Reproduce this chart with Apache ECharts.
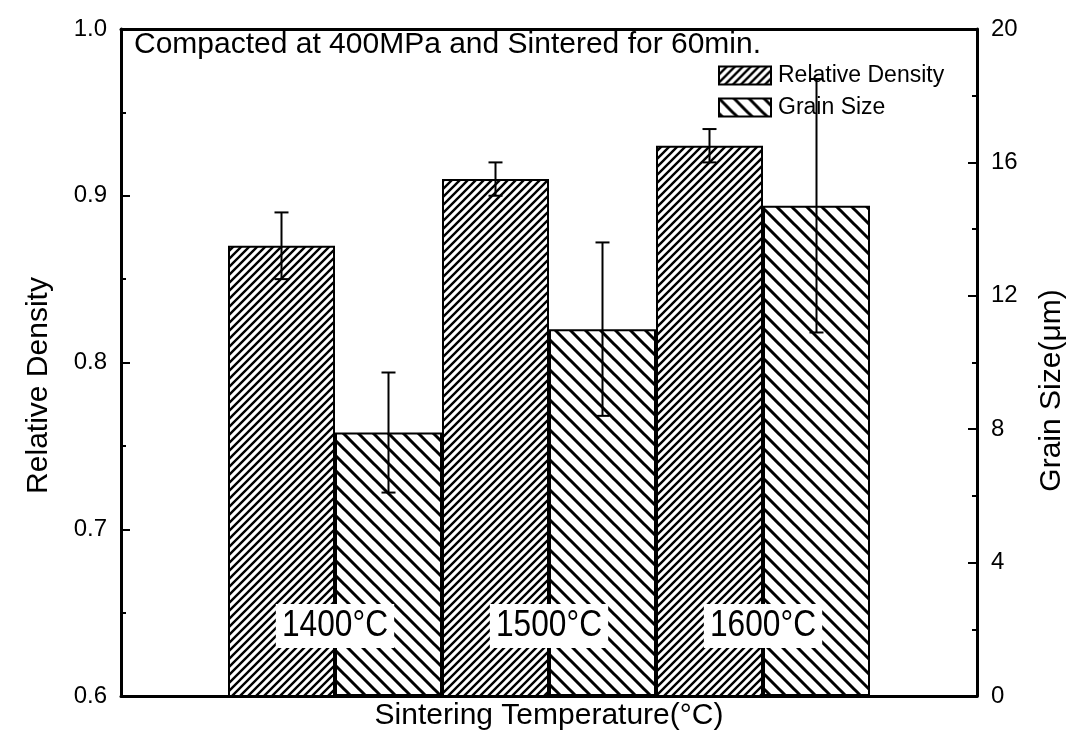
<!DOCTYPE html>
<html>
<head>
<meta charset="utf-8">
<script src="https://cdn.jsdelivr.net/npm/echarts@6/dist/echarts.min.js"></script>
<style>
html, body { margin: 0; padding: 0; background: #fff; }
</style>
</head>
<body>
<div id="main" style="width: 1089px;height:738px;"></div>

<script type="text/javascript">
// data
var categories = ['', '1400°C', '1500°C', '1600°C', ''];
var relDensity = ['-', 0.87, 0.91, 0.93, '-'];
var relDensityErr = [0, 0.02, 0.01, 0.01, 0];
var grainSize = ['-', 7.9, 11.0, 14.7, '-'];
var grainSizeErr = [0, 1.8, 2.6, 3.8, 0];

var FONT = '"Liberation Sans", Arial, sans-serif';
var LABEL_Y = 0.642; // where the temperature boxes sit (left axis units)

// hatch fill: dir 1 = "/" , dir -1 = "\"
function hatch(s, dir, lw) {
	var c = document.createElement('canvas');
	c.width = s; c.height = s;
	var ctx = c.getContext('2d');
	ctx.fillStyle = '#fff';
	ctx.fillRect(0, 0, s, s);
	ctx.strokeStyle = '#000';
	ctx.lineWidth = lw;
	ctx.beginPath();
	if (dir > 0) {
		ctx.moveTo(-s, s); ctx.lineTo(s, -s);
		ctx.moveTo(0, s * 2); ctx.lineTo(s * 2, 0);
		ctx.moveTo(0, s); ctx.lineTo(s, 0);
	} else {
		ctx.moveTo(0, 0); ctx.lineTo(s, s);
		ctx.moveTo(-s, 0); ctx.lineTo(s, s * 2);
		ctx.moveTo(0, -s); ctx.lineTo(s * 2, s);
	}
	ctx.stroke();
	return c;
}

function errData(vals, errs) {
	var out = [];
	for (var i = 0; i < vals.length; i++) {
		if (vals[i] === '-') continue;
		out.push([i, vals[i] - errs[i], vals[i] + errs[i]]);
	}
	return out;
}

function errRender(side) {
	return function (params, api) {
		var bw = api.size([1, 0])[0];
		var lo = api.coord([api.value(0), api.value(1)]);
		var hi = api.coord([api.value(0), api.value(2)]);
		var x = lo[0] + side * bw / 4;
		var cap = 7;
		var st = { stroke: '#000', lineWidth: 2 };
		return {
			type: 'group',
			children: [
				{ type: 'line', shape: { x1: x, y1: lo[1], x2: x, y2: hi[1] }, style: st },
				{ type: 'line', shape: { x1: x - cap, y1: lo[1], x2: x + cap, y2: lo[1] }, style: st },
				{ type: 'line', shape: { x1: x - cap, y1: hi[1], x2: x + cap, y2: hi[1] }, style: st }
			]
		};
	};
}

var myChart = echarts.init(document.getElementById('main'));

var rdFill = { image: hatch(8, 1, 2.4), repeat: 'repeat' };
var gsFill = { image: hatch(15, -1, 3), repeat: 'repeat' };

var labelData = [];
for (var i = 0; i < categories.length; i++) {
	if (categories[i]) labelData.push([i, LABEL_Y]);
}

option = {
	animation: false,
	backgroundColor: '#fff',
	title: {
		text: 'Compacted at 400MPa and Sintered for 60min.',
		left: 134,
		top: 30,
		padding: 0,
		textStyle: { fontFamily: FONT, fontSize: 30, fontWeight: 'normal', color: '#000' }
	},
	legend: {
		data: ['Relative Density', 'Grain Size'],
		orient: 'vertical',
		left: 718,
		top: 64,
		padding: 0,
		itemGap: 9,
		itemWidth: 52,
		itemHeight: 18,
		icon: 'rect',
		textStyle: { fontFamily: FONT, fontSize: 23, color: '#000', lineHeight: 23, padding: [0, 0, 0, 2] }
	},
	grid: { left: 121, right: 112, top: 29, bottom: 42, outerBoundsMode: 'none' },
	xAxis: [{
		type: 'category',
		data: categories,
		boundaryGap: false,
		name: 'Sintering Temperature(°C)',
		nameLocation: 'middle',
		nameGap: 5,
		nameTextStyle: { fontFamily: FONT, fontSize: 30, color: '#000' },
		axisLine: { lineStyle: { color: '#000', width: 3 } },
		axisTick: { show: false },
		axisLabel: { show: false },
		splitLine: { show: false }
	}, {
		type: 'category',
		data: categories,
		boundaryGap: false,
		position: 'top',
		axisLine: { lineStyle: { color: '#000', width: 3 } },
		axisTick: { show: false },
		axisLabel: { show: false },
		splitLine: { show: false }
	}],
	yAxis: [{
		type: 'value',
		min: 0.6,
		max: 1.0,
		interval: 0.1,
		name: 'Relative Density',
		nameLocation: 'middle',
		nameRotate: 90,
		nameGap: 67,
		nameTextStyle: { fontFamily: FONT, fontSize: 30, color: '#000', padding: [0, 46, 0, 0] },
		axisLine: { show: true, lineStyle: { color: '#000', width: 3 } },
		axisTick: { show: true, inside: true, length: 9, lineStyle: { color: '#000', width: 2 } },
		minorTick: { show: true, splitNumber: 2, length: 5, lineStyle: { color: '#000', width: 2 } },
		axisLabel: {
			fontFamily: FONT, fontSize: 24, color: '#000', margin: 14,
			formatter: function (v) { return v.toFixed(1); }
		},
		splitLine: { show: false }
	}, {
		type: 'value',
		min: 0,
		max: 20,
		interval: 4,
		position: 'right',
		name: 'Grain Size(μm)',
		nameLocation: 'middle',
		nameRotate: 90,
		nameGap: 60,
		nameTextStyle: { fontFamily: FONT, fontSize: 30, color: '#000', padding: [0, 56, 0, 0] },
		axisLine: { show: true, lineStyle: { color: '#000', width: 3 } },
		axisTick: { show: true, inside: true, length: 9, lineStyle: { color: '#000', width: 2 } },
		minorTick: { show: true, splitNumber: 2, length: 5, lineStyle: { color: '#000', width: 2 } },
		axisLabel: { fontFamily: FONT, fontSize: 24, color: '#000', margin: 14 },
		splitLine: { show: false }
	}],
	series: [
		{
			name: 'Relative Density',
			type: 'bar',
			yAxisIndex: 0,
			barWidth: '50%',
			barGap: '0%',
			data: relDensity,
			itemStyle: { color: rdFill, borderColor: '#000', borderWidth: 2 }
		},
		{
			name: 'Grain Size',
			type: 'bar',
			yAxisIndex: 1,
			barWidth: '50%',
			barGap: '0%',
			data: grainSize,
			itemStyle: { color: gsFill, borderColor: '#000', borderWidth: 2 }
		},
		{
			name: 'rdErr',
			type: 'custom',
			yAxisIndex: 0,
			z: 5,
			renderItem: errRender(-1),
			data: errData(relDensity, relDensityErr)
		},
		{
			name: 'gsErr',
			type: 'custom',
			yAxisIndex: 1,
			z: 5,
			renderItem: errRender(1),
			data: errData(grainSize, grainSizeErr)
		},
		{
			name: 'tempLabels',
			type: 'custom',
			yAxisIndex: 0,
			z: 6,
			renderItem: function (params, api) {
				var p = api.coord([api.value(0), api.value(1)]);
				return {
					type: 'text',
					x: p[0],
					y: p[1],
					scaleX: 0.88,
					style: {
						text: categories[api.value(0)],
						fontFamily: FONT,
						fontSize: 36,
						lineHeight: 36,
						fill: '#000',
						align: 'center',
						verticalAlign: 'middle',
						backgroundColor: '#fff',
						padding: [4, 7, 4, 7]
					}
				};
			},
			data: labelData
		}
	]
};

myChart.setOption(option);
</script>
</body>
</html>
